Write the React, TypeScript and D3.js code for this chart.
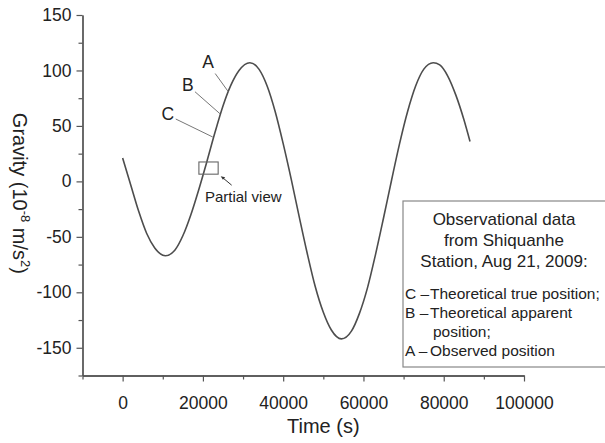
import {useEffect, useRef} from 'react';
import * as d3 from 'd3';

// time (s) and gravity (1e-8 m/s^2)
const times = [
  0, 2000, 4000, 6000, 8000, 10650, 13000, 15000, 17000, 19000, 21000, 23000, 25000, 27000, 29000,
  31700, 34000, 36000, 38000, 40000, 42000, 44000, 46000, 48000, 50000, 52000, 54500, 57000, 59000,
  61000, 63000, 65000, 67000, 69000, 71000, 73000, 75000, 77400, 79000, 81000, 83000, 85000, 86550,
];
const gravity = [
  21, -3, -27, -47, -60, -67, -62, -49, -30, -7, 18, 44, 68, 87, 100,
  107, 101, 86, 63, 34, 2, -32, -65, -95, -118, -134, -142, -135, -119,
  -96, -66, -33, 1, 34, 63, 86, 101, 107, 105, 95, 78, 56, 36,
];

const xMajor = [0, 20000, 40000, 60000, 80000, 100000];
const xMinor = [-10000, 10000, 30000, 50000, 70000, 90000];
const yMajor = [-150, -100, -50, 0, 50, 100, 150];
const yMinor = [-175, -125, -75, -25, 25, 75, 125];

// curve labels: name, time/value where the leader touches the curve
const curveLabels = ['A', 'B', 'C'];
const labelTimes = [26300, 24250, 22450];
const labelValues = [81, 61, 40];

const legendTitle = ['Observational data', 'from Shiquanhe', 'Station, Aug 21, 2009:'];
const legendItems = [
  ['C', 'Theoretical true position;'],
  ['B', 'Theoretical apparent'],
  ['', 'position;'],
  ['A', 'Observed position'],
];

const FONT = '"Liberation Sans", Arial, sans-serif';
const INK = '#222';
const AXIS = '#555';

const App = () => {
  const svgRef = useRef(null);
  const width = 605;
  const height = 443;

  useEffect(() => {
    const svg = d3.select(svgRef.current);
    svg.selectAll('*').remove();

    const x = d3.scaleLinear().domain([-10000, 100000]).range([82.5, 524]);
    const y = d3.scaleLinear().domain([-175, 150]).range([375.5, 15]);
    const plain = d => String(d);

    // minor ticks
    svg.append('g')
      .attr('transform', `translate(0, ${y(-175)})`)
      .call(d3.axisBottom(x).tickValues(xMinor).tickSize(4).tickSizeOuter(0).tickFormat(() => ''));
    svg.append('g')
      .attr('transform', `translate(${x(-10000)}, 0)`)
      .call(d3.axisLeft(y).tickValues(yMinor).tickSize(4).tickSizeOuter(0).tickFormat(() => ''));

    // major axes
    svg.append('g')
      .attr('transform', `translate(0, ${y(-175)})`)
      .call(d3.axisBottom(x).tickValues(xMajor).tickSize(6).tickSizeOuter(0).tickPadding(15).tickFormat(plain));
    svg.append('g')
      .attr('transform', `translate(${x(-10000)}, 0)`)
      .call(d3.axisLeft(y).tickValues(yMajor).tickSize(6).tickSizeOuter(0).tickPadding(5).tickFormat(plain));

    svg.selectAll('.domain').attr('stroke', AXIS).attr('stroke-width', 1.3);
    svg.selectAll('.tick line').attr('stroke', AXIS).attr('stroke-width', 1.2);
    svg.selectAll('.tick text')
      .attr('fill', INK)
      .style('font-family', FONT)
      .style('font-size', '17.5px');

    // curve
    const line = d3.line()
      .x((d, i) => x(times[i]))
      .y(d => y(d))
      .curve(d3.curveMonotoneX);
    svg.append('path')
      .datum(gravity)
      .attr('fill', 'none')
      .attr('stroke', '#4d4d4d')
      .attr('stroke-width', 1.6)
      .attr('d', line);

    // A/B/C leader lines
    const labelOffsets = [[-13, -18, -20, -24], [-25, -22, -32, -23], [-37, -18, -45, -17]];
    curveLabels.forEach((name, i) => {
      const cx = x(labelTimes[i]);
      const cy = y(labelValues[i]);
      const [lx, ly, tx, ty] = labelOffsets[i];
      svg.append('line')
        .attr('x1', cx).attr('y1', cy)
        .attr('x2', cx + lx).attr('y2', cy + ly)
        .attr('stroke', '#777')
        .attr('stroke-width', 1);
      svg.append('text')
        .attr('x', cx + tx)
        .attr('y', cy + ty)
        .attr('text-anchor', 'middle')
        .attr('fill', INK)
        .style('font-family', FONT)
        .style('font-size', '17.5px')
        .text(name);
    });

    // partial view box + arrow
    svg.append('rect')
      .attr('x', x(19000)).attr('y', y(17.5))
      .attr('width', x(23800) - x(19000))
      .attr('height', y(6.5) - y(17.5))
      .attr('fill', 'none')
      .attr('stroke', '#666')
      .attr('stroke-width', 1.1);
    const ax0 = x(23800) + 2.5;
    const ay0 = y(6.5) + 2;
    svg.append('line')
      .attr('x1', ax0 + 11).attr('y1', ay0 + 9)
      .attr('x2', ax0 + 2).attr('y2', ay0 + 1.5)
      .attr('stroke', '#333')
      .attr('stroke-width', 1);
    svg.append('path')
      .attr('d', `M${ax0},${ay0} l4.5,1 l-2.2,2.6 Z`)
      .attr('fill', '#333');
    svg.append('text')
      .attr('x', x(20500))
      .attr('y', y(-18.5))
      .attr('fill', INK)
      .style('font-family', FONT)
      .style('font-size', '15px')
      .text('Partial view');

    // legend box
    svg.append('rect')
      .attr('x', 403).attr('y', 201)
      .attr('width', 215).attr('height', 166)
      .attr('fill', '#fff')
      .attr('stroke', '#888')
      .attr('stroke-width', 1.2);
    legendTitle.forEach((t, i) => {
      svg.append('text')
        .attr('x', 504)
        .attr('y', 225 + i * 21)
        .attr('text-anchor', 'middle')
        .attr('fill', INK)
        .style('font-family', FONT)
        .style('font-size', '17px')
        .text(t);
    });
    legendItems.forEach(([k, t], i) => {
      const ty = 299 + i * 19;
      if (k) {
        svg.append('text')
          .attr('x', 405).attr('y', ty)
          .attr('fill', INK)
          .style('font-family', FONT)
          .style('font-size', '15.5px')
          .text(`${k} \u2013`);
      }
      svg.append('text')
        .attr('x', k ? 430 : 433).attr('y', ty)
        .attr('fill', INK)
        .style('font-family', FONT)
        .style('font-size', '15.5px')
        .text(t);
    });

    // axis titles
    svg.append('text')
      .attr('x', x(50000))
      .attr('y', 433)
      .attr('text-anchor', 'middle')
      .attr('fill', INK)
      .style('font-family', FONT)
      .style('font-size', '20px')
      .text('Time (s)');

    const yl = svg.append('text')
      .attr('transform', `translate(13, ${y(0) + 12}) rotate(90)`)
      .attr('text-anchor', 'middle')
      .attr('fill', INK)
      .style('font-family', FONT)
      .style('font-size', '20px');
    yl.append('tspan').text('Gravity (10');
    yl.append('tspan').attr('dy', -8).style('font-size', '13px').text('-8');
    yl.append('tspan').attr('dy', 8).text(' m/s');
    yl.append('tspan').attr('dy', -8).style('font-size', '13px').text('2');
    yl.append('tspan').attr('dy', 8).text(')');
  }, []);

  return (
    <svg
      ref={svgRef}
      width={width}
      height={height}
      style={{position: 'absolute', left: 0, top: 0, background: '#fff'}}
    />
  );
};

export default App;
